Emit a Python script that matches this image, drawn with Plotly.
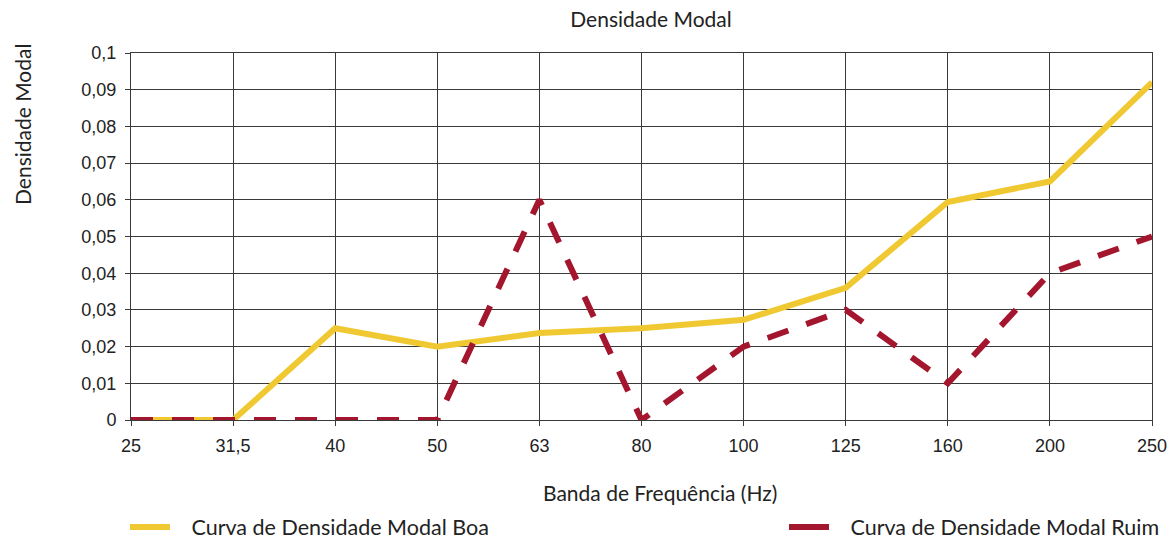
import plotly.graph_objects as go

categorias = ["25", "31,5", "40", "50", "63", "80", "100", "125", "160", "200", "250"]
boa = [0, 0, 0.025, 0.02, 0.0237, 0.025, 0.0273, 0.036, 0.0594, 0.065, 0.092]
ruim = [0, 0, 0, 0, 0.06, 0, 0.02, 0.03, 0.01, 0.04, 0.05]
y_ticks = [0, 0.01, 0.02, 0.03, 0.04, 0.05, 0.06, 0.07, 0.08, 0.09, 0.1]
y_tick_labels = ["0", "0,01", "0,02", "0,03", "0,04", "0,05", "0,06", "0,07", "0,08", "0,09", "0,1"]

YELLOW = "#F0C932"
RED = "#A3162E"
TXT = "#222222"
NB = "\u00a0"

L, R, T, B = 131, 16, 53, 120
W, H = 1168, 540
pw = W - L - R
ph = H - T - B

def px(x):
    return (x - L) / pw

def py(y):
    return (H - B - y) / ph

fig = go.Figure()
fig.add_trace(go.Scatter(x=categorias, y=boa, mode="lines", showlegend=False,
                         line=dict(color=YELLOW, width=6)))
fig.add_trace(go.Scatter(x=categorias, y=ruim, mode="lines", showlegend=False,
                         line=dict(color=RED, width=6, dash="22px,19px")))
# legend entries (solid samples)
fig.add_trace(go.Scatter(x=[None], y=[None], mode="lines",
                         name=NB * 3 + "Curva de Densidade Modal Boa",
                         line=dict(color=YELLOW, width=6, dash="solid"), legend="legend"))
fig.add_trace(go.Scatter(x=[None], y=[None], mode="lines",
                         name=NB * 3 + "Curva de Densidade Modal Ruim",
                         line=dict(color=RED, width=6, dash="solid"), legend="legend2"))

grid = "#3a3a3a"
tickfont = dict(family="Liberation Sans, Arial", size=18, color=TXT)
lato = dict(family="Lato", size=21, color=TXT)
lato_leg = dict(family="Lato", size=21.5, color=TXT)
fig.update_layout(
    width=W, height=H,
    margin=dict(l=L, r=R, t=T, b=B, autoexpand=False),
    paper_bgcolor="white", plot_bgcolor="white",
    title=dict(text="Densidade Modal", x=651 / W, xanchor="center", y=1 - 20 / H,
               yanchor="middle", font=lato),
    xaxis=dict(type="category", range=[0, 10], showgrid=True, gridcolor=grid, gridwidth=1,
               showline=True, linecolor=grid, mirror=True, ticks="outside", ticklen=5,
               tickcolor=grid, tickfont=tickfont, zeroline=False, automargin=False,
               ticklabelstandoff=4),
    yaxis=dict(range=[0, 0.1], tickvals=y_ticks, ticktext=y_tick_labels, showgrid=True,
               gridcolor=grid, gridwidth=1, showline=True, linecolor=grid, mirror=True,
               ticks="outside", ticklen=5, tickcolor=grid, tickfont=tickfont,
               zeroline=False, automargin=False, ticklabelstandoff=5),
    legend=dict(x=px(125), y=py(527), xanchor="left", yanchor="middle", orientation="h",
                font=lato_leg, bgcolor="rgba(0,0,0,0)", itemwidth=40),
    legend2=dict(x=px(784), y=py(527), xanchor="left", yanchor="middle", orientation="h",
                 font=lato_leg, bgcolor="rgba(0,0,0,0)", itemwidth=40),
    annotations=[
        dict(text="Densidade Modal", textangle=-90, x=px(22), y=py(125),
             xref="paper", yref="paper", xanchor="center", yanchor="middle",
             showarrow=False, font=lato),
        dict(text="Banda de Frequência (Hz)", x=px(660), y=py(492),
             xref="paper", yref="paper", xanchor="center", yanchor="middle",
             showarrow=False, font=lato),
    ],
)

fig.write_html("out.html")
